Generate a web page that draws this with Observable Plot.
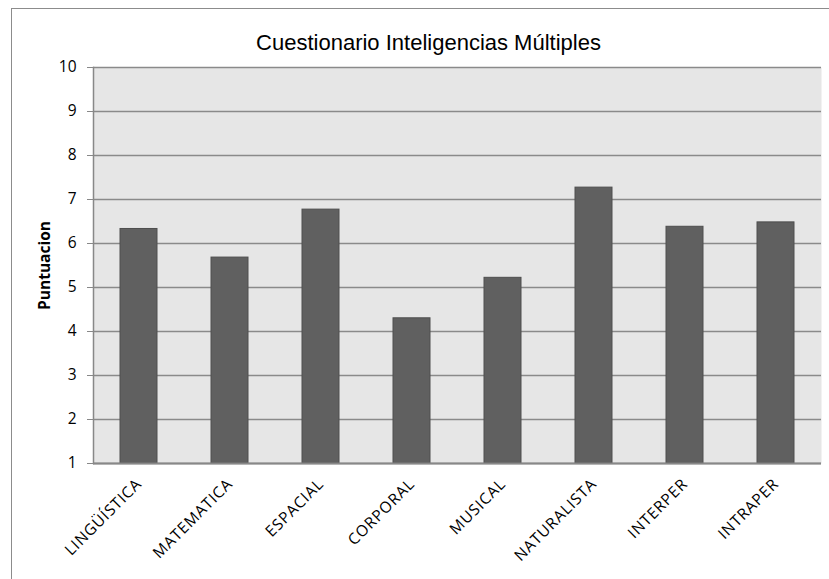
<!DOCTYPE html>
<html>
<head>
<meta charset="utf-8">
<script src="https://cdn.jsdelivr.net/npm/d3@7"></script>
<script src="https://cdn.jsdelivr.net/npm/@observablehq/plot@0.6"></script>
<style>
  html, body { margin: 0; padding: 0; background: #fff; overflow: hidden; }
  #wrap { position: relative; width: 829px; height: 579px; }
  #border { position: absolute; left: 11px; top: 8px; width: 900px; height: 700px; border: 1px solid #8c8c8c; box-sizing: border-box; pointer-events: none; }
  #chart { position: absolute; left: 0; top: 0; }
  .xlab text { letter-spacing: 0.8px; }
</style>
</head>
<body>
<div id="wrap"><div id="border"></div><div id="chart"></div></div>
<script>
const title = "Cuestionario Inteligencias Múltiples";
const yLabel = "Puntuacion";
const categories = ["LINGÜÍSTICA", "MATEMATICA", "ESPACIAL", "CORPORAL", "MUSICAL", "NATURALISTA", "INTERPER", "INTRAPER"];
const values = [6.33, 5.68, 6.77, 4.30, 5.22, 7.27, 6.38, 6.48];
const yTicks = [1, 2, 3, 4, 5, 6, 7, 8, 9, 10];

const data = categories.map((c, i) => ({cat: c, value: values[i]}));

const chart = Plot.plot({
  width: 829,
  height: 579,
  marginLeft: 93,
  marginRight: 8,
  marginTop: 67,
  marginBottom: 116,
  style: {fontFamily: "'Open Sans', sans-serif", fontSize: "15px", color: "#000", background: "transparent"},
  x: {domain: categories, paddingInner: 0.593, paddingOuter: 0.2965, label: null},
  y: {domain: [1, 10], label: null},
  marks: [
    Plot.frame({fill: "#e6e6e6", stroke: null}),
    Plot.gridY(yTicks, {stroke: "#8a8a8a", strokeOpacity: 1, strokeWidth: 1.5}),
    Plot.barY(data, {x: "cat", y1: 1, y2: "value", fill: "#606060", stroke: "#4e4e4e", strokeWidth: 1}),
    Plot.axisY(yTicks, {tickSize: 6, tickPadding: 11, stroke: "#888", fontSize: 15.5, tickFormat: d => String(d), label: null}),
    Plot.axisX({tickSize: 0, tickRotate: -45, tickPadding: 18, fontSize: 15.5, label: null, className: "xlab"}),
    Plot.frame({anchor: "left", stroke: "#888", strokeWidth: 1.5}),
    Plot.ruleY([1], {stroke: "#888", strokeWidth: 2}),
    Plot.text([title], {text: d => d, frameAnchor: "top", dy: -33, dx: -29, fontSize: 22, fontFamily: "'Liberation Sans', Arial, sans-serif", fill: "#000"}),
    Plot.text([yLabel], {text: d => d, frameAnchor: "left", textAnchor: "middle", rotate: -90, dx: -48, fontWeight: "bold", fontSize: 15.5, fill: "#000"})
  ]
});
document.getElementById("chart").appendChild(chart);
</script>
</body>
</html>
